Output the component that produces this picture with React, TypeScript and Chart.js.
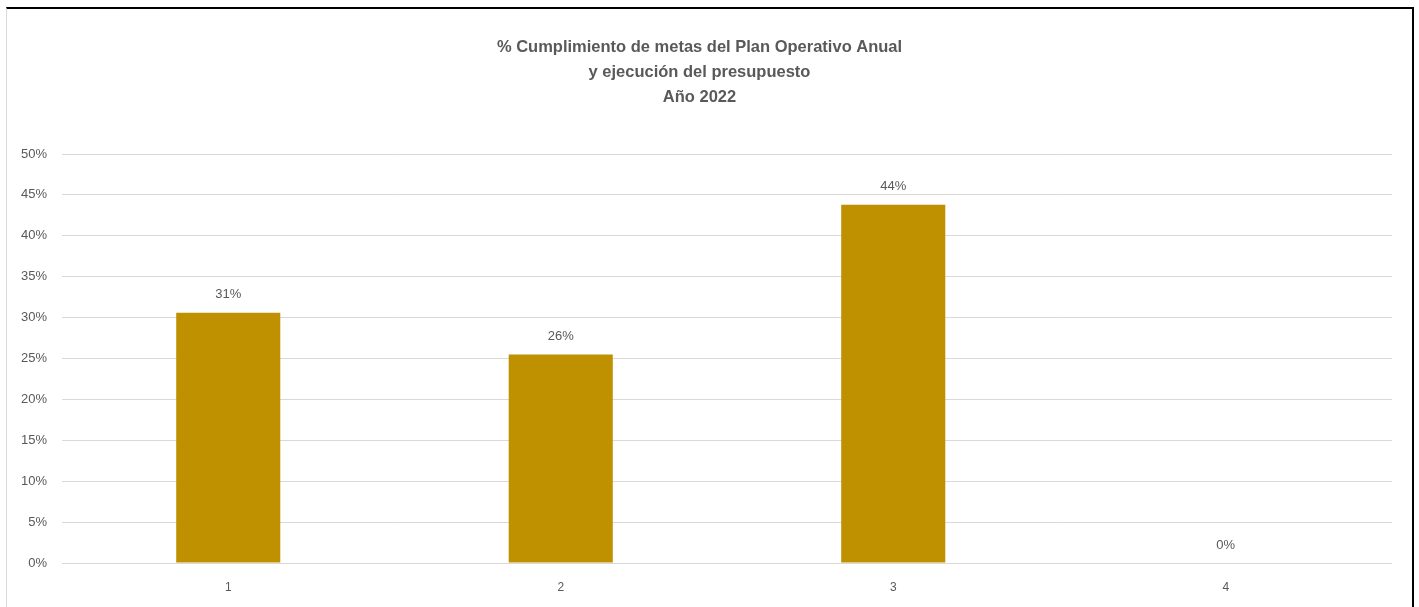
import React, { useEffect, useRef } from "react";
import { Chart, registerables } from "chart.js";

Chart.register(...registerables);

const categories = ["1", "2", "3", "4"];
const values = [30.6, 25.5, 43.8, 0];
const valueLabels = ["31%", "26%", "44%", "0%"];
const titleLines = [
  "% Cumplimiento de metas del Plan Operativo Anual",
  "y ejecución del presupuesto",
  "Año 2022",
];

const FONT = "'Liberation Sans', Arial, sans-serif";

const dataLabelPlugin = {
  id: "dataLabels",
  afterDatasetsDraw(chart: any) {
    const ctx = chart.ctx;
    const meta = chart.getDatasetMeta(0);
    ctx.save();
    ctx.font = `13px ${FONT}`;
    ctx.fillStyle = "#595959";
    ctx.textAlign = "center";
    ctx.textBaseline = "middle";
    meta.data.forEach((bar: any, i: number) => {
      ctx.fillText(valueLabels[i], bar.x, bar.y - 18);
    });
    ctx.restore();
  },
};

export default function App() {
  const ref = useRef<HTMLCanvasElement>(null);
  useEffect(() => {
    if (!ref.current) return;
    const chart = new Chart(ref.current, {
      type: "bar",
      data: {
        labels: categories,
        datasets: [
          {
            data: values,
            backgroundColor: "#BF9000",
            borderWidth: 0,
            categoryPercentage: 1,
            barPercentage: 0.313,
          },
        ],
      },
      options: {
        animation: false,
        responsive: false,
        maintainAspectRatio: false,
        layout: { padding: { left: 0, right: 20, top: 0, bottom: 0 } },
        plugins: {
          legend: { display: false },
          tooltip: { enabled: false },
          title: {
            display: true,
            text: titleLines,
            color: "#595959",
            font: { family: FONT, size: 16.5, weight: "bold", lineHeight: "25px" },
            padding: { top: 26, bottom: 44 },
          },
        },
        scales: {
          x: {
            grid: { display: false, drawTicks: false },
            border: { display: false },
            ticks: { color: "#595959", font: { family: FONT, size: 12 }, padding: 17 },
            afterFit: (s: any) => {
              s.height = 44;
            },
          },
          y: {
            min: 0,
            max: 50,
            ticks: {
              stepSize: 5,
              color: "#595959",
              font: { family: FONT, size: 13 },
              padding: 15,
              callback: (v: any) => `${v}%`,
            },
            grid: { color: "#d9d9d9", drawTicks: false },
            border: { display: false },
            afterFit: (s: any) => {
              s.width = 55;
            },
          },
        },
      },
      plugins: [dataLabelPlugin],
    });
    return () => chart.destroy();
  }, []);

  return (
    <div
      style={{
        position: "fixed",
        left: 6,
        top: 7,
        width: 1408,
        height: 600,
        boxSizing: "border-box",
        borderTop: "2px solid #000",
        borderRight: "2px solid #000",
        borderLeft: "1px solid #d9d9d9",
        background: "#fff",
      }}
    >
      <canvas ref={ref} width={1405} height={598} style={{ display: "block" }} />
    </div>
  );
}
